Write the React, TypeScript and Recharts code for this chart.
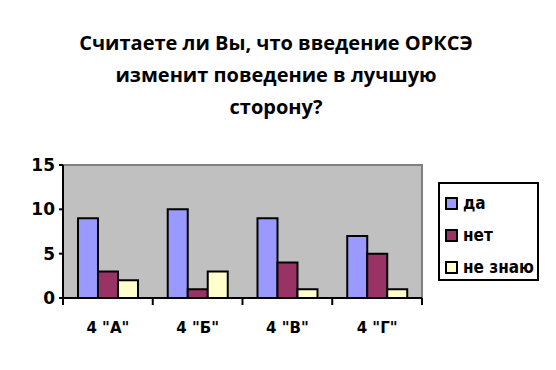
import { BarChart, Bar, XAxis, YAxis, ReferenceArea } from 'recharts';

const CLASSES = ['4 "А"', '4 "Б"', '4 "В"', '4 "Г"'];
const YES = [9, 10, 9, 7];
const NO = [3, 1, 4, 5];
const DONT_KNOW = [2, 3, 1, 1];
const Y_TICKS = [0, 5, 10, 15];

const SERIES = [
  { key: 'yes', name: 'да', color: '#9999FF' },
  { key: 'no', name: 'нет', color: '#993366' },
  { key: 'dk', name: 'не знаю', color: '#FFFFCC' },
];

const data = CLASSES.map((c, i) => ({ name: c, yes: YES[i], no: NO[i], dk: DONT_KNOW[i] }));

const W = 556;
const H = 370;
const MARGIN = { top: 165, right: 134, left: 0, bottom: 42 };
const Y_WIDTH = 63;
const BAND = (W - MARGIN.right - MARGIN.left - Y_WIDTH) / CLASSES.length;
const FONT = 'DejaVu Sans, Verdana, sans-serif';

// category label + boundary tick marks (Excel style)
function ClassTick(props: any) {
  const { x, y, payload, index } = props;
  const left = x - BAND / 2;
  return (
    <g>
      <line x1={left} y1={y - 8} x2={left} y2={y - 1} stroke="#000" strokeWidth={2} />
      {index === CLASSES.length - 1 && (
        <line x1={left + BAND} y1={y - 8} x2={left + BAND} y2={y - 1} stroke="#000" strokeWidth={2} />
      )}
      <text x={x} y={y + 27} textAnchor="middle" fontSize={15} fontWeight="bold" fontFamily={FONT} fill="#000">
        {payload.value}
      </text>
    </g>
  );
}

function LegendBox() {
  return (
    <div style={{ position: 'absolute', left: 438, top: 182, width: 97, height: 95, border: '2px solid #000', background: '#fff', fontFamily: 'DejaVu Sans Condensed, DejaVu Sans, sans-serif', fontWeight: 'bold', fontSize: 17 }}>
      {SERIES.map((s, i) => (
        <div key={s.key} style={{ display: 'flex', alignItems: 'center', position: 'absolute', left: 5, top: 9 + i * 32, height: 20, lineHeight: '20px' }}>
          <span style={{ width: 9, height: 9, border: '2px solid #000', background: s.color, display: 'inline-block', marginRight: 5 }} />
          <span>{s.name}</span>
        </div>
      ))}
    </div>
  );
}

export default function App() {
  return (
    <div style={{ position: 'absolute', left: 0, top: 0, width: W, height: H, background: '#fff' }}>
      <div style={{ position: 'absolute', left: 0, top: 27, width: 552, textAlign: 'center', fontFamily: 'Open Sans, Lato, sans-serif', fontWeight: 'bold', fontSize: 20, lineHeight: '32px', color: '#000' }}>
        Считаете ли Вы, что введение ОРКСЭ<br />
        изменит поведение в лучшую<br />
        сторону?
      </div>
      <BarChart width={W} height={H} data={data} margin={MARGIN} barCategoryGap="16.7%" barGap={0}>
        <ReferenceArea y1={0} y2={15} fill="#C0C0C0" fillOpacity={1} stroke="#808080" strokeWidth={2} ifOverflow="visible" />
        <XAxis dataKey="name" tickLine={false} axisLine={{ stroke: '#000', strokeWidth: 2 }} tick={<ClassTick />} height={30} interval={0} />
        <YAxis
          domain={[0, 15]}
          ticks={Y_TICKS}
          width={Y_WIDTH}
          axisLine={{ stroke: '#000', strokeWidth: 2 }}
          tickLine={{ stroke: '#000', strokeWidth: 2 }}
          tickSize={4}
          tickMargin={4}
          tick={{ fontSize: 17, fontWeight: 'bold', fill: '#000', fontFamily: FONT }}
        />
        {SERIES.map((s) => (
          <Bar key={s.key} dataKey={s.key} name={s.name} fill={s.color} stroke="#000" strokeWidth={2} isAnimationActive={false} />
        ))}
      </BarChart>
      <LegendBox />
    </div>
  );
}
